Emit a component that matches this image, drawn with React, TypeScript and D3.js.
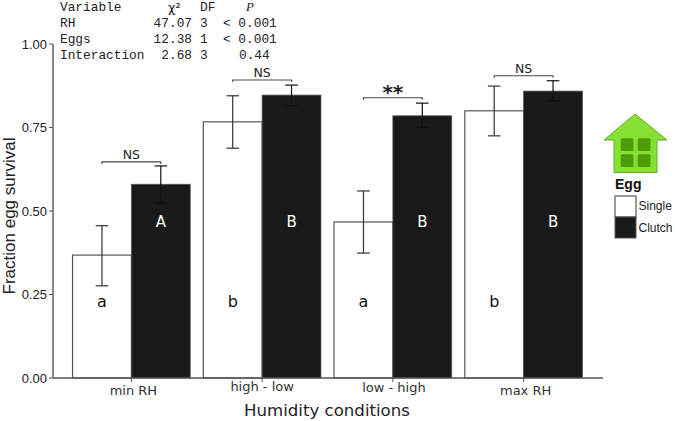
import React from "react";
import * as d3 from "d3";

const conditions = ["min RH", "high - low", "low - high", "max RH"];
const eggTypes = ["Single", "Clutch"];
const singleMean = [0.368, 0.767, 0.467, 0.80];
const singleLow = [0.276, 0.688, 0.374, 0.725];
const singleHigh = [0.456, 0.845, 0.56, 0.874];
const clutchMean = [0.58, 0.847, 0.785, 0.859];
const clutchLow = [0.524, 0.815, 0.75, 0.83];
const clutchHigh = [0.635, 0.877, 0.823, 0.89];
const singleLetters = ["a", "b", "a", "b"];
const clutchLetters = ["A", "B", "B", "B"];
const sigLabels = ["NS", "NS", "**", "NS"];
const sigLevels = [0.647, 0.892, 0.839, 0.905];
const yTicks = [0, 0.25, 0.5, 0.75, 1];
const tableRows = [
  ["RH", "47.07", "3", "< 0.001"],
  ["Eggs", "12.38", "1", "< 0.001"],
  ["Interaction", "2.68", "3", "0.44"],
];

const y = d3.scaleLinear().domain([0, 1]).range([378, 44]);
const x = d3.scaleBand().domain(conditions).range([66, 589]).paddingInner(0.1).paddingOuter(0.05);
const sub = d3.scaleBand().domain(eggTypes).range([0, x.bandwidth()]);

const sans = "'DejaVu Sans', sans-serif";
const arial = "'Liberation Sans', Arial, sans-serif";
const mono = "'Liberation Mono', monospace";
const grey = "#555";
const dark = "#1a1a1a";
const labelShift = [2, 0, 1, 2];
const labelBase = [395, 391, 392, 395];

function ErrorBar({ cx, lo, hi, color }: { cx: number; lo: number; hi: number; color: string }) {
  return (
    <g stroke={color} strokeWidth={1.2} fill="none">
      <line x1={cx} x2={cx} y1={y(lo)} y2={y(hi)} />
      <line x1={cx - 6.3} x2={cx + 6.3} y1={y(lo)} y2={y(lo)} />
      <line x1={cx - 6.3} x2={cx + 6.3} y1={y(hi)} y2={y(hi)} />
    </g>
  );
}

export default function App() {
  const w = sub.bandwidth();
  return (
    <svg width={675} height={421} style={{ position: "absolute", left: 0, top: 0, background: "#fff" }}>
      {conditions.map((c, i) => {
        const x0 = x(c)!;
        const cs = x0 + sub("Single")! + w / 2;
        const cc = x0 + sub("Clutch")! + w / 2;
        const ly = y(sigLevels[i]);
        const stars = sigLabels[i] === "**";
        return (
          <g key={c}>
            <rect x={x0 + sub("Single")!} y={y(singleMean[i])} width={w} height={378 - y(singleMean[i])} fill="#fff" stroke={grey} strokeWidth={1.2} />
            <rect x={x0 + sub("Clutch")!} y={y(clutchMean[i])} width={w} height={378 - y(clutchMean[i])} fill={dark} stroke={grey} strokeWidth={0.8} />
            <ErrorBar cx={cs} lo={singleLow[i]} hi={singleHigh[i]} color="#333" />
            <ErrorBar cx={cc} lo={clutchLow[i]} hi={clutchHigh[i]} color="#111" />
            <path d={`M${cs},${ly + 2}V${ly}H${cc}V${ly + 2}`} fill="none" stroke="#444" strokeWidth={1.1} />
            <text x={(cs + cc) / 2} y={stars ? ly + 1 : ly - 3} textAnchor="middle" fontFamily={sans} fontSize={stars ? 20 : 12.5} fontWeight={stars ? "bold" : "normal"} fill="#222">{sigLabels[i]}</text>
            <text x={cs} y={307} textAnchor="middle" fontFamily={sans} fontSize={16} fill="#111">{singleLetters[i]}</text>
            <text x={cc} y={227} textAnchor="middle" fontFamily={sans} fontSize={15} fill="#fff">{clutchLetters[i]}</text>
            <line x1={x0 + w} x2={x0 + w} y1={378} y2={382} stroke={grey} strokeWidth={1} />
            <text x={x0 + w + labelShift[i]} y={labelBase[i]} textAnchor="middle" fontFamily={sans} fontSize={13} fill="#333">{c}</text>
          </g>
        );
      })}
      <line x1={53} x2={53} y1={y(1)} y2={378} stroke={grey} strokeWidth={1.4} />
      <line x1={53} x2={603} y1={378} y2={378} stroke={grey} strokeWidth={1.4} />
      {yTicks.map((t) => (
        <g key={t}>
          <line x1={49} x2={53} y1={y(t)} y2={y(t)} stroke={grey} strokeWidth={1} />
          <text x={47} y={y(t) + 4.5} textAnchor="end" fontFamily={arial} fontSize={13} fill="#222">{d3.format(".2f")(t)}</text>
        </g>
      ))}
      <text transform="translate(15,216) rotate(-90)" textAnchor="middle" fontFamily={arial} fontSize={17} fill="#222">Fraction egg survival</text>
      <text x={327} y={416} textAnchor="middle" fontFamily={sans} fontSize={16.6} fill="#222">Humidity conditions</text>

      <g fontFamily={mono} fontSize={12.8} fill="#222">
        <text x={60} y={11}>Variable</text>
        <text x={168} y={12} fontFamily={sans}>χ²</text>
        <text x={200} y={11}>DF</text>
        <text x={250} y={11} textAnchor="middle" fontStyle="italic" fontFamily="'Liberation Serif', serif">P</text>
        {tableRows.map((r, i) => (
          <g key={r[0]}>
            <text x={60} y={27 + i * 16}>{r[0]}</text>
            <text x={192} y={27 + i * 16} textAnchor="end">{r[1]}</text>
            <text x={200} y={27 + i * 16}>{r[2]}</text>
            <text x={r[3].length > 4 ? 223 : 239} y={27 + i * 16}>{r[3]}</text>
          </g>
        ))}
      </g>

      <path d="M604,140 L635,114 L667,140 L657,140 L657,172.5 L614,172.5 L614,140 Z" fill="#86e032" stroke="#5cb030" strokeWidth={1} />
      {[0, 1].map((r) => [0, 1].map((c) => (
        <rect key={`${r}${c}`} x={620.7 + c * 17} y={138.3 + r * 16} width={12.8} height={12.6} rx={1.5} fill="#4f9a08" />
      )))}
      <text x={615} y={189} fontFamily={arial} fontSize={14} fontWeight="bold" fill="#111">Egg</text>
      <rect x={615} y={196} width={21} height={21} fill="#fff" stroke={grey} strokeWidth={1.2} />
      <rect x={615} y={217} width={21} height={21} fill={dark} stroke={grey} strokeWidth={1} />
      {eggTypes.map((e, i) => (
        <text key={e} x={638.5} y={209.5 + i * 22} fontFamily={arial} fontSize={12} fill="#222">{e}</text>
      ))}
    </svg>
  );
}
